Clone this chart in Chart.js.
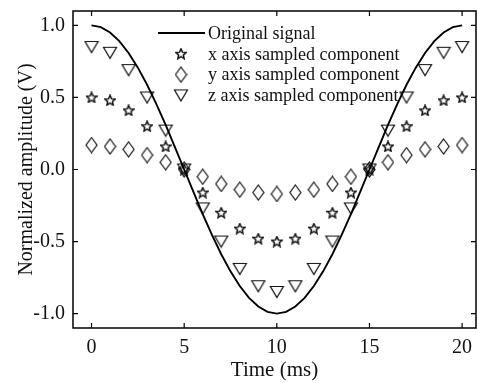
<!DOCTYPE html>
<html>
<head>
<meta charset="utf-8">
<script src="https://cdn.jsdelivr.net/npm/chart.js@4"></script>
<style>
  html, body { margin: 0; padding: 0; background: #fff; }
  #wrap { width: 477px; height: 383px; }
</style>
</head>
<body>
<div id="wrap"><canvas id="c" width="477" height="383"></canvas></div>
<script>
// signal curve, every 0.5 ms
const tSignal = [0,0.5,1,1.5,2,2.5,3,3.5,4,4.5,5,5.5,6,6.5,7,7.5,8,8.5,9,9.5,10,10.5,11,11.5,12,12.5,13,13.5,14,14.5,15,15.5,16,16.5,17,17.5,18,18.5,19,19.5,20];
const ySignal = [1.0,0.988,0.951,0.891,0.809,0.707,0.588,0.454,0.309,0.156,0.0,-0.156,-0.309,-0.454,-0.588,-0.707,-0.809,-0.891,-0.951,-0.988,-1.0,-0.988,-0.951,-0.891,-0.809,-0.707,-0.588,-0.454,-0.309,-0.156,0.0,0.156,0.309,0.454,0.588,0.707,0.809,0.891,0.951,0.988,1.0];

// sampled components, one sample per ms
const tSample = [0,1,2,3,4,5,6,7,8,9,10,11,12,13,14,15,16,17,18,19,20];
const xComp = [0.50,0.48,0.41,0.30,0.16,0.0,-0.16,-0.30,-0.41,-0.48,-0.50,-0.48,-0.41,-0.30,-0.16,0.0,0.16,0.30,0.41,0.48,0.50];
const yComp = [0.17,0.16,0.14,0.10,0.05,0.0,-0.05,-0.10,-0.14,-0.16,-0.17,-0.16,-0.14,-0.10,-0.05,0.0,0.05,0.10,0.14,0.16,0.17];
const zComp = [0.85,0.81,0.69,0.50,0.27,0.0,-0.27,-0.50,-0.69,-0.81,-0.85,-0.81,-0.69,-0.50,-0.27,0.0,0.27,0.50,0.69,0.81,0.85];

const xTicks = [0,5,10,15,20];
const yTicks = [-1.0,-0.5,0.0,0.5,1.0];
const labels = ['Original signal','x axis sampled component','y axis sampled component','z axis sampled component'];

const serif = '"Liberation Serif", "DejaVu Serif", serif';

// marker images
function mk(w, h, lw, draw) {
  const c = document.createElement('canvas');
  c.width = w; c.height = h;
  const g = c.getContext('2d');
  g.strokeStyle = '#111'; g.lineWidth = lw; g.lineJoin = 'miter';
  g.beginPath(); draw(g); g.closePath(); g.stroke();
  return c;
}
const triImg = mk(16, 14, 1.2, g => { g.moveTo(1.5,1.5); g.lineTo(14.5,1.5); g.lineTo(8,12.5); });
const diaImg = mk(13, 17, 1.2, g => { g.moveTo(6.5,1); g.lineTo(12,8.5); g.lineTo(6.5,16); g.lineTo(1,8.5); });
const starImg = mk(12, 12, 1.5, g => {
  for (let i = 0; i < 10; i++) {
    const r = i % 2 ? 2.5 : 5.3;
    const a = -Math.PI / 2 + i * Math.PI / 5;
    const px = 6 + r * Math.cos(a), py = 6.4 + r * Math.sin(a);
    i ? g.lineTo(px, py) : g.moveTo(px, py);
  }
});

const pts = (xs, ys) => xs.map((x, i) => ({ x: x, y: ys[i] }));

const frame = {
  id: 'frame',
  afterDatasetsDraw(chart) {
    const { ctx, chartArea: a, scales } = chart;
    ctx.save();
    ctx.strokeStyle = '#000';
    ctx.lineWidth = 1.5;
    ctx.strokeRect(a.left, a.top, a.right - a.left, a.bottom - a.top);
    ctx.lineWidth = 1.2;
    ctx.beginPath();
    xTicks.forEach(v => {
      const p = scales.x.getPixelForValue(v);
      ctx.moveTo(p, a.bottom); ctx.lineTo(p, a.bottom - 5);
      ctx.moveTo(p, a.top); ctx.lineTo(p, a.top + 5);
    });
    yTicks.forEach(v => {
      const p = scales.y.getPixelForValue(v);
      ctx.moveTo(a.left, p); ctx.lineTo(a.left + 5, p);
      ctx.moveTo(a.right, p); ctx.lineTo(a.right - 5, p);
    });
    ctx.stroke();

    // legend
    const lx = 158, ly = 33, gap = 20.8;
    ctx.font = '18px ' + serif;
    ctx.fillStyle = '#111';
    ctx.textBaseline = 'middle';
    ctx.lineWidth = 1.8;
    ctx.beginPath(); ctx.moveTo(lx, ly); ctx.lineTo(lx + 47, ly); ctx.stroke();
    const imgs = [null, starImg, diaImg, triImg];
    labels.forEach((t, i) => {
      const y = ly + i * gap;
      if (imgs[i]) ctx.drawImage(imgs[i], lx + 23 - imgs[i].width / 2, y - imgs[i].height / 2);
      ctx.fillText(t, lx + 50, y + 1);
    });
    ctx.restore();
  }
};

new Chart(document.getElementById('c'), {
  type: 'scatter',
  data: {
    datasets: [
      { data: pts(tSignal, ySignal), showLine: true, borderColor: '#000', borderWidth: 1.9, pointRadius: 0, tension: 0 },
      { data: pts(tSample, xComp), pointStyle: starImg, pointRadius: 6 },
      { data: pts(tSample, yComp), pointStyle: diaImg, pointRadius: 6 },
      { data: pts(tSample, zComp), pointStyle: triImg, pointRadius: 7 }
    ]
  },
  options: {
    responsive: false,
    animation: false,
    events: [],
    layout: { autoPadding: false, padding: { top: 11, right: 1, left: 0, bottom: 0 } },
    plugins: { legend: { display: false }, tooltip: { enabled: false } },
    scales: {
      x: {
        type: 'linear', min: -1, max: 20.75,
        afterBuildTicks: s => { s.ticks = xTicks.map(v => ({ value: v })); },
        afterFit: s => { s.height = 55; s.paddingLeft = 0; s.paddingRight = 0; },
        grid: { display: false, drawTicks: false },
        border: { display: false },
        ticks: { color: '#111', padding: 8, font: { family: serif, size: 20 }, maxRotation: 0 },
        title: { display: true, text: 'Time (ms)', color: '#111', font: { family: serif, size: 21 }, padding: { top: 0, bottom: 0 } }
      },
      y: {
        type: 'linear', min: -1.1, max: 1.1,
        afterBuildTicks: s => { s.ticks = yTicks.map(v => ({ value: v })); },
        afterFit: s => { s.width = 73; s.paddingTop = 0; s.paddingBottom = 0; },
        grid: { display: false, drawTicks: false },
        border: { display: false },
        ticks: { color: '#111', padding: 8, font: { family: serif, size: 20 }, callback: v => v.toFixed(1) },
        title: { display: true, text: 'Normalized amplitude (V)', color: '#111', font: { family: serif, size: 20 }, padding: { top: 15, bottom: 1 } }
      }
    }
  },
  plugins: [frame]
});
</script>
</body>
</html>
